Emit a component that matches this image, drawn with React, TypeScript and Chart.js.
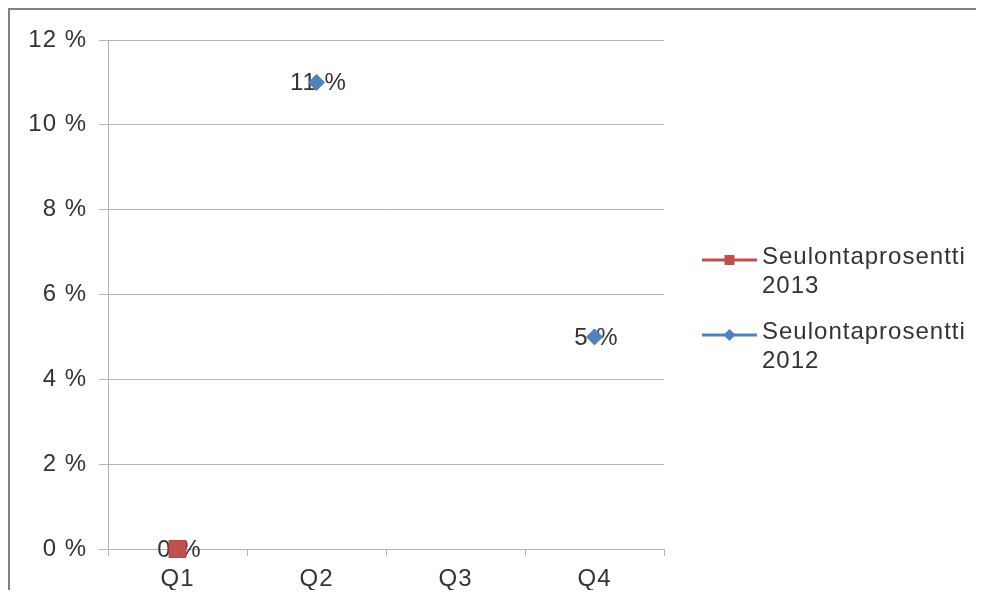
import React, { useEffect, useRef } from "react";
import { Chart, registerables } from "chart.js";

Chart.register(...registerables);

const categories = ["Q1", "Q2", "Q3", "Q4"];
const series2013: (number | null)[] = [0, null, null, null];
const series2012: (number | null)[] = [null, 11, null, 5];
const seriesLabels = ["Seulontaprosentti 2013", "Seulontaprosentti 2012"];
const yTickValues = [0, 2, 4, 6, 8, 10, 12];

const RED = "#C0504D";
const BLUE = "#4F81BD";
const TEXT = "#333333";
const GRID = "#b5b5b5";
const FONT_FAMILY = '"Liberation Sans", Arial, sans-serif';
const FONT_SIZE = 24;

const spacingPlugin = {
  id: "spacing",
  beforeDraw(chart: any) {
    (chart.ctx as any).letterSpacing = "1px";
  },
};

const pointLabelPlugin = {
  id: "pointLabels",
  beforeDatasetsDraw(chart: any) {
    const ctx = chart.ctx;
    chart.data.datasets.forEach((ds: any, i: number) => {
      const meta = chart.getDatasetMeta(i);
      meta.data.forEach((pt: any, j: number) => {
        const v = ds.data[j];
        if (v === null || v === undefined) return;
        ctx.save();
        ctx.font = `${FONT_SIZE}px ${FONT_FAMILY}`;
        ctx.fillStyle = TEXT;
        ctx.textAlign = "center";
        ctx.textBaseline = "middle";
        ctx.fillText(`${v} %`, pt.x + 2, pt.y + 1);
        ctx.restore();
      });
    });
  },
};

const legendPlugin = {
  id: "sideLegend",
  afterDraw(chart: any) {
    const ctx = chart.ctx;
    const lineX0 = 692;
    const lineX1 = 747;
    const textX = 752;
    const entryY = [250, 325];
    const lineGap = 29;
    chart.data.datasets.forEach((ds: any, i: number) => {
      const y = entryY[i];
      const color = ds.borderColor;
      ctx.save();
      ctx.strokeStyle = color;
      ctx.lineWidth = 3;
      ctx.beginPath();
      ctx.moveTo(lineX0, y);
      ctx.lineTo(lineX1, y);
      ctx.stroke();
      ctx.fillStyle = color;
      const cx = (lineX0 + lineX1) / 2;
      if (ds.pointStyle === "rect") {
        ctx.fillRect(cx - 5, y - 5, 10, 10);
      } else {
        ctx.beginPath();
        ctx.moveTo(cx - 6, y);
        ctx.lineTo(cx, y - 6);
        ctx.lineTo(cx + 6, y);
        ctx.lineTo(cx, y + 6);
        ctx.closePath();
        ctx.fill();
      }
      const label: string = ds.label;
      const idx = label.lastIndexOf(" ");
      const lines = [label.slice(0, idx), label.slice(idx + 1)];
      ctx.font = `${FONT_SIZE}px ${FONT_FAMILY}`;
      ctx.fillStyle = TEXT;
      ctx.textAlign = "left";
      ctx.textBaseline = "middle";
      lines.forEach((ln, k) => {
        ctx.fillText(ln, textX, y - 3 + k * lineGap);
      });
      ctx.restore();
    });
  },
};

export default function App() {
  const canvasRef = useRef<HTMLCanvasElement | null>(null);

  useEffect(() => {
    if (!canvasRef.current) return;
    const font = { family: FONT_FAMILY, size: FONT_SIZE };
    const chart = new Chart(canvasRef.current, {
      type: "line",
      data: {
        labels: categories,
        datasets: [
          {
            label: seriesLabels[0],
            data: series2013,
            borderColor: RED,
            backgroundColor: RED,
            borderWidth: 3,
            pointStyle: "rect",
            pointRadius: 12,
            pointBorderWidth: 1,
            pointBackgroundColor: RED,
            pointBorderColor: "#B84744",
            clip: false,
          } as any,
          {
            label: seriesLabels[1],
            data: series2012,
            borderColor: BLUE,
            backgroundColor: BLUE,
            borderWidth: 3,
            pointStyle: "rectRot",
            pointRadius: 8,
            pointBorderWidth: 1,
            pointBackgroundColor: BLUE,
            pointBorderColor: "#4A7EBB",
            clip: false,
          } as any,
        ],
      },
      options: {
        responsive: false,
        animation: false,
        layout: { padding: { top: 30, right: 320, bottom: 0, left: 0 } },
        plugins: {
          legend: { display: false },
          tooltip: { enabled: false },
        },
        scales: {
          x: {
            offset: true,
            grid: {
              offset: true,
              drawOnChartArea: false,
              color: GRID,
              tickLength: 7,
              tickColor: GRID,
            },
            border: { color: GRID, width: 1 },
            ticks: { color: TEXT, font, padding: 9, maxRotation: 0 },
            afterFit: (s: any) => {
              s.height = 41;
            },
          },
          y: {
            min: yTickValues[0],
            max: yTickValues[yTickValues.length - 1],
            afterBuildTicks: (s: any) => {
              s.ticks = yTickValues.map((v) => ({ value: v }));
            },
            ticks: {
              color: TEXT,
              font,
              padding: 12,
              callback: (v: any) => `${v} %`,
            },
            grid: { color: GRID, tickLength: 9, tickColor: GRID },
            border: { color: GRID, width: 1 },
            afterFit: (s: any) => {
              s.width = 98;
            },
          },
        },
      },
      plugins: [spacingPlugin, pointLabelPlugin, legendPlugin],
    });
    return () => chart.destroy();
  }, []);

  return (
    <div
      style={{
        borderTop: "2px solid #808080",
        borderLeft: "2px solid #808080",
        width: 974,
        height: 580,
        background: "#fff",
      }}
    >
      <canvas ref={canvasRef} width={974} height={580} style={{ display: "block" }} />
    </div>
  );
}
